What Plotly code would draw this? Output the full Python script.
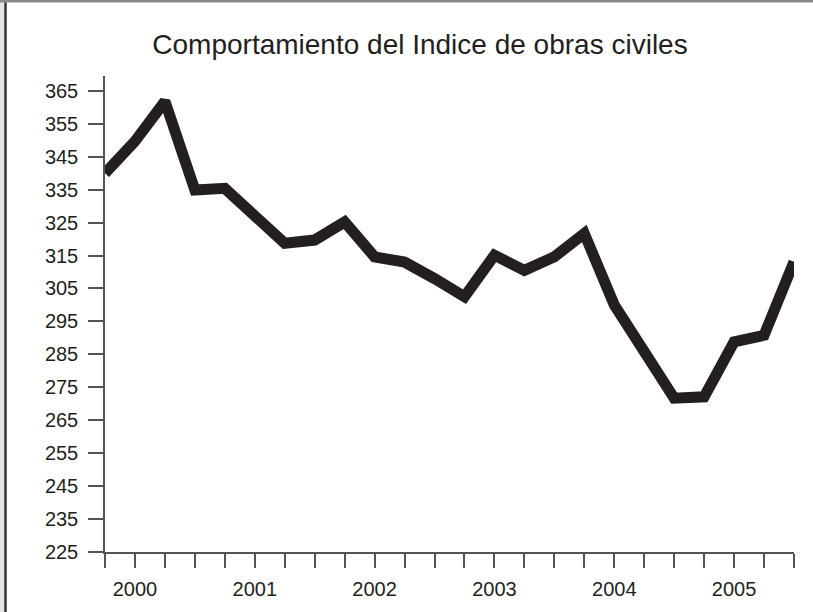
import plotly.graph_objects as go

## datos: indice trimestral de obras civiles 2000-2005
years = ["2000", "2001", "2002", "2003", "2004", "2005"]
quarters = [y + "-" + q for y in years for q in ["I", "II", "III", "IV"]]
indice = [340.0, 349.7, 361.8, 334.9, 335.4, 326.5, 318.7, 319.7,
          325.2, 314.6, 313.0, 308.0, 302.5, 315.1, 310.5, 314.6,
          321.7, 300.0, 285.5, 271.7, 272.1, 288.8, 290.8, 313.1]
y_ticks = list(range(225, 366, 10))

# etiqueta del año en el segundo trimestre
x_text = [q.split("-")[0] if q.endswith("-II") else "" for q in quarters]

ink = "#231f20"
axis_col = "#555555"

fig = go.Figure()
fig.add_trace(go.Scatter(x=quarters, y=indice, mode="lines",
                         line=dict(color=ink, width=11), hoverinfo="x+y"))

W, H = 813, 612
L, R, T, B = 105, 19, 76, 60
pw, ph = W - L - R, H - T - B

def px(x):
    return (x - L) / pw

def py(y):
    return (H - B - y) / ph

fig.update_layout(
    width=W, height=H,
    margin=dict(l=L, r=R, t=T, b=B),
    paper_bgcolor="white", plot_bgcolor="white",
    showlegend=False,
    font=dict(family="Liberation Sans, Arial, sans-serif", color=ink),
    title=dict(text="Comportamiento del Indice de obras civiles",
               x=420 / W, xanchor="center", y=1 - 44 / H, yanchor="middle",
               font=dict(size=28, color=ink)),
    xaxis=dict(type="category", range=[0, 23],
               tickvals=quarters, ticktext=x_text,
               ticks="outside", ticklen=14, tickwidth=1.5, tickcolor=axis_col,
               showline=True, linecolor=axis_col, linewidth=1.5,
               showgrid=False, zeroline=False,
               tickfont=dict(size=20, color=ink), ticklabelstandoff=4),
    yaxis=dict(range=[225, 369.5], tickvals=y_ticks,
               ticks="outside", ticklen=15, tickwidth=1.5, tickcolor=axis_col,
               showline=True, linecolor=axis_col, linewidth=1.5,
               showgrid=False, zeroline=False,
               tickfont=dict(size=20, color=ink), ticklabelstandoff=6),
    shapes=[
        # marco de la imagen
        dict(type="rect", xref="paper", yref="paper", layer="below",
             x0=px(0), x1=px(4), y0=py(H), y1=py(0),
             fillcolor="#e4e4e4", line=dict(width=0)),
        dict(type="line", xref="paper", yref="paper",
             x0=px(5.5), x1=px(5.5), y0=py(H), y1=py(2),
             line=dict(color="#333333", width=2.5)),
        dict(type="rect", xref="paper", yref="paper",
             x0=px(0), x1=px(W), y0=py(2.5), y1=py(0),
             fillcolor="#8a8a8a", line=dict(width=0)),
    ],
)

fig.write_html("out.html", config={"displayModeBar": False},
               post_script="document.body.style.margin='0';")
